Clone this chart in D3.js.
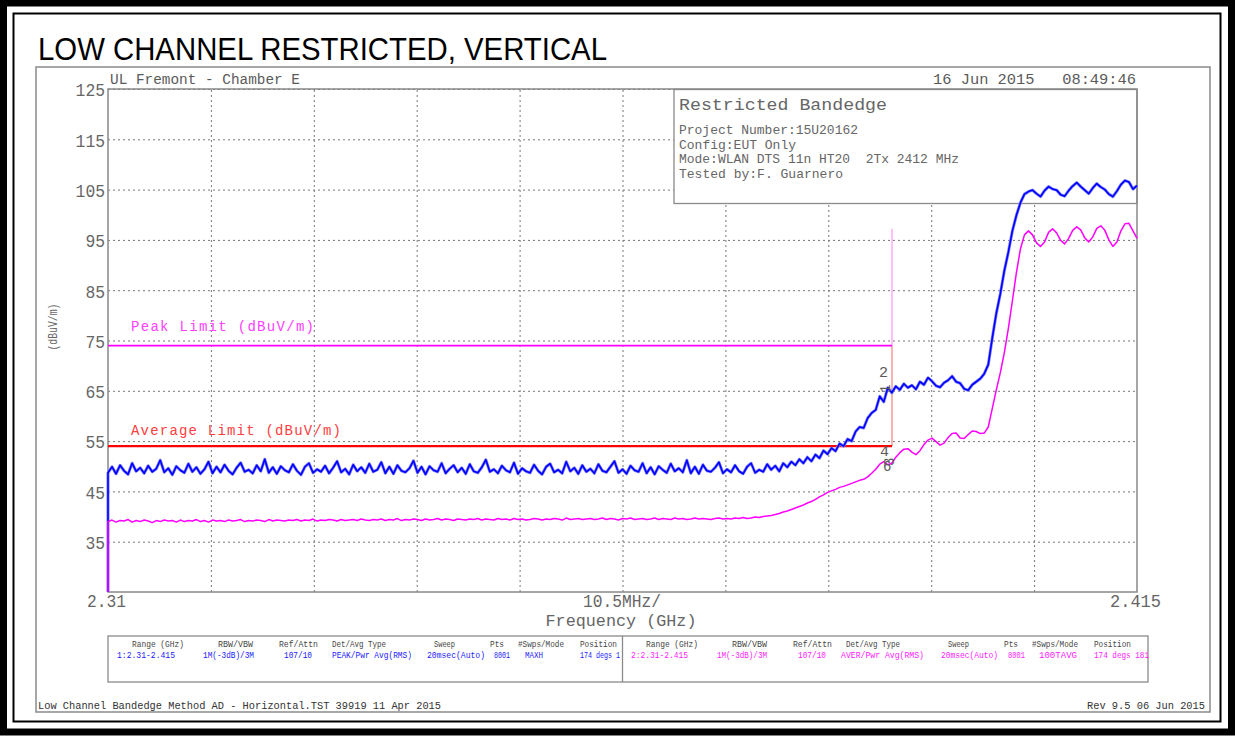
<!DOCTYPE html>
<html>
<head>
<meta charset="utf-8">
<script src="https://cdn.jsdelivr.net/npm/d3@7"></script>
<style>
  html, body { margin: 0; padding: 0; background: #fff; }
  svg { display: block; }
  text { white-space: pre; }
</style>
</head>
<body>
<svg id="chart" width="1235" height="736"></svg>
<script>
// ---- Sweep settings ----
const freqStart = 2.31;
const freqStop = 2.415;
const levelMin = 25;
const levelMax = 125;
const levelTicks = [125, 115, 105, 95, 85, 75, 65, 55, 45, 35];
const freqDivisions = 10;

// ---- Trace 1: PEAK / MAXH (dBuV/m), evenly spaced sweep bins ----
const peakTrace = [
  48.7,49.9,48.5,50.2,49.1,48.4,50.6,49.0,49.7,48.6,50.1,48.9,49.5,51.2,48.8,
  49.6,48.3,50.0,49.2,48.7,50.5,48.9,49.8,48.5,49.4,50.9,48.6,49.9,48.8,50.3,
  49.1,48.4,49.7,50.7,48.9,49.3,48.6,50.2,49.0,51.4,48.7,49.8,48.5,50.0,49.2,
  48.8,50.4,49.1,48.3,49.9,50.6,48.7,49.4,48.9,50.1,48.6,49.7,51.0,48.8,49.5,
  48.4,50.3,49.0,49.8,48.7,50.5,48.9,49.3,50.8,48.6,49.9,48.5,50.2,49.1,48.8,
  49.6,51.1,48.7,49.9,48.4,50.0,49.2,48.9,50.6,48.6,49.5,50.2,48.8,49.7,48.5,
  50.4,49.0,48.7,49.8,51.3,48.9,49.4,48.6,50.1,49.2,48.8,50.7,48.5,49.6,49.0,
  48.7,50.3,49.1,48.4,49.9,50.5,48.8,49.3,48.6,50.9,49.0,49.7,48.5,50.2,48.9,
  49.5,48.6,50.4,49.1,48.8,49.9,51.0,48.7,49.4,48.5,50.1,49.2,48.9,50.6,48.6,
  49.8,48.4,50.0,49.3,48.7,50.5,49.0,49.6,48.8,51.2,48.6,49.9,48.5,50.3,49.1,
  48.9,49.7,50.8,48.6,49.4,48.8,50.2,49.0,48.5,49.9,50.6,48.7,49.3,48.9,50.4,
  49.3,50.1,49.0,50.6,49.8,50.9,50.2,51.4,50.6,51.8,51.0,52.3,51.6,53.1,52.4,
  53.6,53.0,54.5,54.0,55.4,55.0,56.9,57.8,57.6,59.6,60.6,61.2,63.9,62.8,65.6,
  64.6,65.9,65.2,66.4,65.6,66.1,65.3,66.8,66.2,67.6,66.9,66.0,65.7,66.6,67.1,
  67.9,66.8,66.5,65.4,65.1,66.2,66.8,67.4,68.4,
  70.2,75.5,80.4,84.3,88.9,92.6,96.8,99.9,102.4,104.1,
  104.6,104.9,104.2,103.6,104.8,105.6,105.1,104.9,104.0,103.7,104.8,105.7,106.4,105.6,
  104.9,104.2,105.3,106.2,105.5,105.0,104.1,103.6,104.7,106.0,106.8,106.5,105.1,105.8
];

// ---- Trace 2: AVER / 100 sweep average (dBuV/m) ----
const avgTrace = [
  39.0,39.3,38.9,39.2,39.1,39.4,38.9,39.2,39.0,39.3,39.1,38.8,39.2,39.0,39.3,
  39.1,39.2,38.9,39.3,39.0,39.2,39.1,39.4,39.0,39.2,38.9,39.3,39.1,39.2,39.0,
  39.3,39.1,39.2,39.4,39.0,39.2,39.1,39.3,39.2,39.0,39.4,39.1,39.3,39.2,39.1,
  39.3,39.2,39.4,39.1,39.3,39.2,39.5,39.1,39.3,39.2,39.4,39.3,39.1,39.4,39.2,
  39.3,39.4,39.2,39.5,39.3,39.2,39.4,39.3,39.5,39.2,39.4,39.3,39.6,39.2,39.4,
  39.3,39.5,39.4,39.2,39.5,39.3,39.4,39.6,39.3,39.5,39.4,39.2,39.5,39.4,39.3,
  39.5,39.4,39.6,39.3,39.5,39.4,39.3,39.6,39.4,39.5,39.3,39.6,39.4,39.5,39.3,
  39.4,39.6,39.5,39.3,39.5,39.4,39.6,39.5,39.3,39.7,39.4,39.5,39.6,39.4,39.5,
  39.6,39.4,39.5,39.7,39.4,39.6,39.5,39.3,39.6,39.5,39.7,39.4,39.5,39.6,39.4,
  39.5,39.7,39.4,39.6,39.5,39.4,39.7,39.5,39.6,39.4,39.5,39.7,39.5,39.6,39.5,
  39.4,39.6,39.7,39.5,39.6,39.5,39.7,39.6,39.8,39.6,39.7,39.9,39.8,40.0,40.1,
  40.2,40.4,40.6,40.9,41.1,41.4,41.7,42.0,42.3,42.7,43.0,43.4,43.9,44.3,44.8,
  45.1,45.4,45.8,46.0,46.3,46.6,46.9,47.2,47.4,47.9,48.6,49.4,50.4,50.9,50.3,
  50.6,51.8,52.7,53.4,53.5,52.8,52.3,53.1,54.3,55.2,55.6,54.9,54.2,54.6,55.7,
  56.5,56.6,55.6,55.5,56.3,57.0,56.9,56.5,56.6,
  57.8,61.5,65.2,68.6,72.6,77.4,82.9,88.5,93.2,96.0,
  96.8,96.0,94.4,93.7,94.6,96.5,97.2,96.4,94.9,94.2,95.3,96.9,97.6,97.0,
  95.4,94.6,95.6,97.3,97.8,96.9,95.0,93.7,94.6,96.8,98.2,98.3,96.8,95.3
];

// ---- Limits ----
const peakLimit = [{ f: 2.31, v: 74 }, { f: 2.39, v: 74 }];
const avgLimit = [{ f: 2.31, v: 54 }, { f: 2.39, v: 54 }];
const bandEdgeFreq = 2.39;
const bandEdgeTop = 97.2;

// ---- Setup table ----
const tableHeaders = ["Range (GHz)", "RBW/VBW", "Ref/Attn", "Det/Avg Type", "Sweep", "Pts", "#Swps/Mode", "Position"];
const trace1Setup = ["1:2.31-2.415", "1M(-3dB)/3M", "107/10", "PEAK/Pwr Avg(RMS)", "20msec(Auto)", "8001", "MAXH", "174 degs 1"];
const trace2Setup = ["2:2.31-2.415", "1M(-3dB)/3M", "107/10", "AVER/Pwr Avg(RMS)", "20msec(Auto)", "8001", "100TAVG", "174 degs 181"];

const infoLines = ["Project Number:15U20162", "Config:EUT Only", "Mode:WLAN DTS 11n HT20  2Tx 2412 MHz", "Tested by:F. Guarnero"];

// ---- Layout ----
const plot = { left: 108, right: 1137, top: 89, bottom: 592 };
const svg = d3.select("#chart");
const MONO = "Liberation Mono, DejaVu Sans Mono, monospace";
const GRAY = "#5a5a5a";

const x = d3.scaleLinear().domain([freqStart, freqStop]).range([plot.left, plot.right]);
const y = d3.scaleLinear().domain([levelMin, levelMax]).range([plot.bottom, plot.top]);

function label(g, txt, px, py, o) {
  const t = g.append("text")
    .attr("x", px).attr("y", py).text(txt)
    .attr("font-family", o.font || MONO)
    .attr("font-size", o.size)
    .attr("fill", o.fill || GRAY)
    .attr("text-anchor", o.anchor || "start");
  if (o.w) t.attr("textLength", o.w).attr("lengthAdjust", o.adjust || "spacingAndGlyphs");
  return t;
}

// outer document frame
svg.append("rect").attr("x", 3.5).attr("y", 3).attr("width", 1228).attr("height", 729)
  .attr("fill", "none").attr("stroke", "#000").attr("stroke-width", 7);
svg.append("rect").attr("x", 13.5).attr("y", 13.5).attr("width", 1207).attr("height", 708)
  .attr("fill", "none").attr("stroke", "#000").attr("stroke-width", 2);

// title
label(svg, "LOW CHANNEL RESTRICTED, VERTICAL", 38, 60,
  { font: "Liberation Sans, Arial, sans-serif", size: 31, fill: "#000", w: 569 });

// analyzer panel frame
svg.append("rect").attr("x", 36).attr("y", 67).attr("width", 1174).attr("height", 645)
  .attr("fill", "none").attr("stroke", "#8a8a8a").attr("stroke-width", 1.5);

// header texts
label(svg, "UL Fremont - Chamber E", 110, 84, { size: 14.5, w: 190 });
label(svg, "16 Jun 2015   08:49:46", 1136, 84, { size: 14.5, w: 203, anchor: "end" });

// grid
const gGrid = svg.append("g");
const gridFreqs = d3.range(1, freqDivisions).map(i => freqStart + i * (freqStop - freqStart) / freqDivisions);
gGrid.append("g")
  .attr("transform", `translate(0,${plot.bottom})`)
  .call(d3.axisBottom(x).tickValues(gridFreqs).tickSize(-(plot.bottom - plot.top)).tickFormat(""))
  .call(g => g.select(".domain").remove())
  .call(g => g.selectAll("line").attr("stroke", "#777").attr("stroke-dasharray", "2,3"));

const yAxis = gGrid.append("g")
  .attr("transform", `translate(${plot.left},0)`)
  .call(d3.axisLeft(y).tickValues(levelTicks).tickSize(-(plot.right - plot.left)).tickPadding(3))
  .call(g => g.select(".domain").remove());
yAxis.selectAll("line").attr("stroke", "#777").attr("stroke-dasharray", "2,3");
yAxis.selectAll("text")
  .attr("font-family", MONO).attr("font-size", 19).attr("fill", "#666")
  .attr("dy", "0.36em")
  .each(function (d) {
    d3.select(this).attr("textLength", String(d).length * 9.8).attr("lengthAdjust", "spacingAndGlyphs");
  });

// y-axis title
label(svg, "(dBuV/m)", 0, 0, { size: 13, w: 47, anchor: "middle", fill: "#666" })
  .attr("transform", "translate(57,327) rotate(-90)");

// info box (under the traces)
const gInfo = svg.append("g");
gInfo.append("rect").attr("x", 674).attr("y", 89.5).attr("width", 463).attr("height", 114)
  .attr("fill", "#fff").attr("stroke", "#8a8a8a").attr("stroke-width", 1.3);
label(gInfo, "Restricted Bandedge", 679, 110, { size: 16, w: 208, fill: "#666" });
const infoWidths = [179, 117, 280, 164];
infoLines.forEach((t, i) => label(gInfo, t, 679, 134 + i * 14.5, { size: 13, w: infoWidths[i], fill: "#666" }));

// plot frame
svg.append("rect").attr("x", plot.left).attr("y", plot.top)
  .attr("width", plot.right - plot.left).attr("height", plot.bottom - plot.top)
  .attr("fill", "none").attr("stroke", "#888").attr("stroke-width", 1.5);

// limit lines
const limLine = d3.line().x(d => x(d.f)).y(d => y(d.v));
svg.append("line")
  .attr("x1", x(bandEdgeFreq)).attr("x2", x(bandEdgeFreq))
  .attr("y1", y(bandEdgeTop)).attr("y2", y(peakLimit[1].v))
  .attr("stroke", "#ff80ff").attr("stroke-width", 1);
svg.append("line")
  .attr("x1", x(bandEdgeFreq)).attr("x2", x(bandEdgeFreq))
  .attr("y1", y(peakLimit[1].v)).attr("y2", y(avgLimit[1].v))
  .attr("stroke", "#f59a9a").attr("stroke-width", 1.5);
svg.append("path").attr("d", limLine(peakLimit)).attr("fill", "none")
  .attr("stroke", "#ff00ff").attr("stroke-width", 1.8);
svg.append("path").attr("d", limLine(avgLimit)).attr("fill", "none")
  .attr("stroke", "#ff0000").attr("stroke-width", 2.2);
label(svg, "Peak Limit (dBuV/m)", 131, 331, { size: 14, fill: "#ff40ff", w: 183, adjust: "spacing" });
label(svg, "Average Limit (dBuV/m)", 131, 435, { size: 14, fill: "#ff4040", w: 210, adjust: "spacing" });

// traces: sweep starts at the bottom reference, then evenly spaced bins
function tracePath(values) {
  const step = (freqStop - freqStart) / (values.length - 1);
  const pts = [{ f: freqStart, v: levelMin }].concat(values.map((v, i) => ({ f: freqStart + i * step, v })));
  return d3.line().x(d => x(d.f)).y(d => y(d.v))(pts);
}
svg.append("path").attr("d", tracePath(peakTrace)).attr("fill", "none")
  .attr("stroke", "#8080ff").attr("stroke-width", 3).attr("stroke-linejoin", "round");
svg.append("path").attr("d", tracePath(peakTrace)).attr("fill", "none")
  .attr("stroke", "#0000ff").attr("stroke-width", 1.6).attr("stroke-linejoin", "round");
svg.append("path").attr("d", tracePath(avgTrace)).attr("fill", "none")
  .attr("stroke", "#ff00ff").attr("stroke-width", 1.5).attr("stroke-linejoin", "round");

// marker annotations at the band edge
const gMk = svg.append("g");
label(gMk, "2", 879, 377, { size: 15 });
label(gMk, "1", 0, 0, { size: 14 }).attr("transform", "translate(890,393) rotate(-90)");
label(gMk, "4", 880, 456, { size: 15 });
label(gMk, "3", 0, 0, { size: 14 }).attr("transform", "translate(894,466) rotate(-90)");
label(gMk, "6", 883, 471, { size: 14 });

// x labels
label(svg, "2.31", 87, 607, { size: 19, w: 39, fill: "#666" });
label(svg, "10.5MHz/", 622, 607, { size: 19, w: 78, anchor: "middle", fill: "#666" });
label(svg, "2.415", 1161, 607, { size: 19, w: 51, anchor: "end", fill: "#666" });
label(svg, "Frequency (GHz)", 621, 626, { size: 17, w: 151, anchor: "middle", fill: "#666" });

// setup table
const gTab = svg.append("g");
gTab.append("rect").attr("x", 108).attr("y", 636).attr("width", 1040).attr("height", 46)
  .attr("fill", "none").attr("stroke", "#8a8a8a").attr("stroke-width", 1.3);
gTab.append("line").attr("x1", 622.5).attr("x2", 622.5).attr("y1", 636).attr("y2", 682)
  .attr("stroke", "#8a8a8a").attr("stroke-width", 1.3);
const headerX = [132, 218, 279, 332, 434, 490, 518, 580];
const headerW = [52, 35, 39, 54, 21, 14, 46, 37];
const valueX = [117, 203, 284, 332, 427, 494, 525, 580];
const valueW = [58, 51, 28, 80, 58, 16, 18, 40];
const value2W = [57, 50, 28, 83, 57, 17, 38, 55];
const halfShift = 514;
tableHeaders.forEach((h, i) => {
  label(gTab, h, headerX[i], 647, { size: 9, w: headerW[i], fill: "#444" });
  label(gTab, h, headerX[i] + halfShift, 647, { size: 9, w: headerW[i], fill: "#444" });
});
trace1Setup.forEach((v, i) => label(gTab, v, valueX[i], 658, { size: 9, w: valueW[i], fill: "#2020ff" }));
trace2Setup.forEach((v, i) => label(gTab, v, valueX[i] + halfShift + (i === 3 ? -5 : 0), 658, { size: 9, w: value2W[i], fill: "#ff20ff" }));

// footer
label(svg, "Low Channel Bandedge Method AD - Horizontal.TST 39919 11 Apr 2015", 38, 709, { size: 10, w: 403, fill: "#333" });
label(svg, "Rev 9.5 06 Jun 2015", 1205, 709, { size: 10, w: 118, anchor: "end", fill: "#333" });
</script>
</body>
</html>
